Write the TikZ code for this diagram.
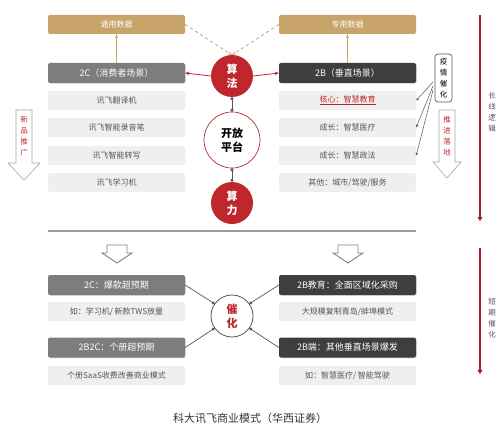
\documentclass[tikz,border=0pt]{standalone}
\usepackage{fontspec}
\setmainfont{Noto Sans CJK SC}
\usetikzlibrary{arrows.meta,shadows}
\definecolor{gold}{HTML}{C9A46A}
\definecolor{hred}{HTML}{C0272D}
\definecolor{dgray}{HTML}{3E3E3E}
\definecolor{mgray}{HTML}{7D7D7D}
\definecolor{lgray}{HTML}{EFEFEF}
\definecolor{tgray}{HTML}{555555}
\tikzset{
  x=1pt,y=-1pt,
  base/.style={rounded corners=2pt,minimum width=137pt,inner sep=0pt,font=\fontsize{8}{9}\selectfont},
  goldbox/.style={base,fill=gold,text=white,minimum height=19pt},
  midbox/.style={base,fill=mgray,text=white,minimum height=20pt,font=\fontsize{9}{10}\selectfont,drop shadow={opacity=0.25,shadow xshift=0.8pt,shadow yshift=-0.8pt}},
  darkbox/.style={base,fill=dgray,text=white,minimum height=20pt,font=\fontsize{9}{10}\selectfont,drop shadow={opacity=0.25,shadow xshift=0.8pt,shadow yshift=-0.8pt}},
  itembox/.style={base,fill=lgray,text=tgray,minimum height=19pt},
  redcirc/.style={circle,fill=hred,text=white,minimum size=42pt,inner sep=0pt,align=center,font=\fontsize{11}{14}\selectfont\bfseries},
  whitecirc/.style={circle,draw=hred,fill=white,line width=0.7pt,inner sep=0pt,align=center,font=\fontsize{11}{14}\selectfont\bfseries},
  vtext/.style={align=center,inner sep=0pt,font=\fontsize{7.5}{11}\selectfont},
  dotline/.style={draw=tgray,line width=0.8pt,{Circle[length=3pt]}-{Circle[length=3pt]}},
  hollow/.style={draw=gray!70,fill=white,line width=0.6pt},
  redline/.style={draw=hred!85!black,line width=2.2pt,-{Triangle[length=4pt,width=5pt]}},
}
\begin{document}
\begin{tikzpicture}
\useasboundingbox (0,0) rectangle (500,433);
\fill[white] (0,0) rectangle (500,433);

% top data boxes
\node[goldbox] (ty) at (116.5,24.5) {通用数据};
\node[goldbox] (zy) at (347.5,24.5) {专用数据};

% scene headers
\node[midbox] (c2) at (116.5,73) {2C（消费者场景）};
\node[darkbox] (b2) at (347.5,73) {2B（垂直场景）};

% left items
\node[itembox] (l1) at (116.5,100.5) {讯飞翻译机};
\node[itembox] (l2) at (116.5,127.5) {讯飞智能录音笔};
\node[itembox] (l3) at (116.5,155.5) {讯飞智能转写};
\node[itembox] (l4) at (116.5,182.5) {讯飞学习机};

% right items
\node[itembox,text=hred] (r1) at (347.5,100.5) {\underline{核心：智慧教育}};
\node[itembox] (r2) at (347.5,127.5) {成长：智慧医疗};
\node[itembox] (r3) at (347.5,155.5) {成长：智慧政法};
\node[itembox] (r4) at (347.5,182.5) {其他：城市/驾驶/服务};

% circles
\node[redcirc] (sf) at (232,76) {算\\法};
\node[whitecirc,minimum size=56pt] (kf) at (232,140) {开放\\平台};
\node[redcirc] (sl) at (232,203) {算\\力};

\draw[dotline] (sf.south) -- (kf.north);
\draw[dotline] (kf.south) -- (sl.north);

% arrows to data
\draw[draw=gold,line width=0.8pt,-{Stealth[length=4pt,width=3pt]}] (c2.north) -- (ty.south);
\draw[draw=gold,line width=0.8pt,-{Stealth[length=4pt,width=3pt]}] (b2.north) -- (zy.south);
\coordinate (sftop) at (232,55);
\draw[draw=gold,line width=0.8pt,dashed,-{Stealth[length=4pt,width=3pt]}] (ty.east) -- (sftop);
\draw[draw=gold,line width=0.8pt,dashed,-{Stealth[length=4pt,width=3pt]}] (zy.west) -- (sftop);

% red arrows from algorithm
\draw[draw=hred,line width=0.8pt,-{Stealth[length=4pt,width=3.5pt]}] (sf.west) -- (c2.east);
\draw[draw=hred,line width=0.8pt,-{Stealth[length=4pt,width=3.5pt]}] (sf.east) -- (b2.west);

% left hollow arrow
\draw[hollow] (16,110) -- (32,110) -- (32,163) -- (40,163) -- (24,180) -- (8,163) -- (16,163) -- cycle;
\node[vtext,text=hred] (xp) at (24,136) {新\\品\\推\\广};

% right: epidemic box and hollow arrow
\node[draw=tgray,fill=white,rounded corners=3pt,line width=0.7pt,minimum width=17pt,minimum height=48pt,vtext,text=black] (yq) at (443.5,78) {疫\\情\\催\\化};
\coordinate (yqa) at (433,82);
\coordinate (yqb) at (433,86);
\coordinate (yqc) at (433,90);
\draw[draw=tgray,line width=0.5pt,-{Stealth[length=3pt,width=2.5pt]}] (yqa) -- (r1.east);
\draw[draw=tgray,line width=0.5pt,-{Stealth[length=3pt,width=2.5pt]}] (yqb) -- (r2.east);
\draw[draw=tgray,line width=0.5pt,-{Stealth[length=3pt,width=2.5pt]}] (yqc) -- (r3.east);
\draw[hollow] (439,110) -- (455,110) -- (455,162) -- (461,162) -- (447,178) -- (433,162) -- (439,162) -- cycle;
\node[vtext,text=hred] (tj) at (447,136) {推\\进\\落\\地};

% long-term line
\coordinate (lt1) at (480,15);
\coordinate (lt2) at (480,221);
\draw[redline] (lt1) -- (lt2);
\node[vtext,text=tgray] (cx) at (492,112) {长\\线\\逻\\辑};

% separator
\coordinate (sep1) at (48,231);
\coordinate (sep2) at (416,231);
\draw[draw=gray!80,line width=1.5pt] (sep1) -- (sep2);

% small hollow arrows
\draw[hollow,line width=0.9pt,draw=gray] (107,245) -- (127,245) -- (127,253) -- (132,253) -- (117,263) -- (102,253) -- (107,253) -- cycle;
\draw[hollow,line width=0.9pt,draw=gray] (338,245) -- (358,245) -- (358,253) -- (363,253) -- (348,263) -- (333,253) -- (338,253) -- cycle;

% bottom boxes
\node[midbox] (bl1) at (116.5,285) {2C：爆款超预期};
\node[itembox] (bl2) at (116.5,311.5) {如：学习机/ 新款TWS放量};
\node[midbox] (bl3) at (116.5,347.5) {2B2C：个册超预期};
\node[itembox] (bl4) at (116.5,375.5) {个册SaaS收费改善商业模式};

\node[darkbox] (br1) at (347.5,285) {2B教育：全面区域化采购};
\node[itembox] (br2) at (347.5,311.5) {大规模复制青岛/蚌埠模式};
\node[darkbox] (br3) at (347.5,347.5) {2B端：其他垂直场景爆发};
\node[itembox] (br4) at (347.5,375.5) {如：智慧医疗/ 智能驾驶};

\node[circle,draw=tgray,fill=white,line width=0.8pt,minimum size=42pt,inner sep=0pt,align=center,text=hred,font=\fontsize{11}{14}\selectfont\bfseries] (ch) at (232,316) {催\\化};

\draw[draw=tgray,line width=0.7pt,-{Circle[length=3pt]}] (bl1.east) -- (ch.145);
\draw[draw=tgray,line width=0.7pt,-{Circle[length=3pt]}] (bl3.east) -- (ch.215);
\draw[draw=tgray,line width=0.7pt,-{Circle[length=3pt]}] (br1.west) -- (ch.35);
\draw[draw=tgray,line width=0.7pt,-{Circle[length=3pt]}] (br3.west) -- (ch.325);

% short-term line
\coordinate (st1) at (480,248);
\coordinate (st2) at (480,374);
\draw[redline] (st1) -- (st2);
\node[vtext,text=tgray] (dq) at (492,318) {短\\期\\催\\化};

% caption
\node[font=\fontsize{11}{13}\selectfont,text=black!80] (cap) at (250,418) {科大讯飞商业模式（华西证券）};
\end{tikzpicture}
\end{document}
